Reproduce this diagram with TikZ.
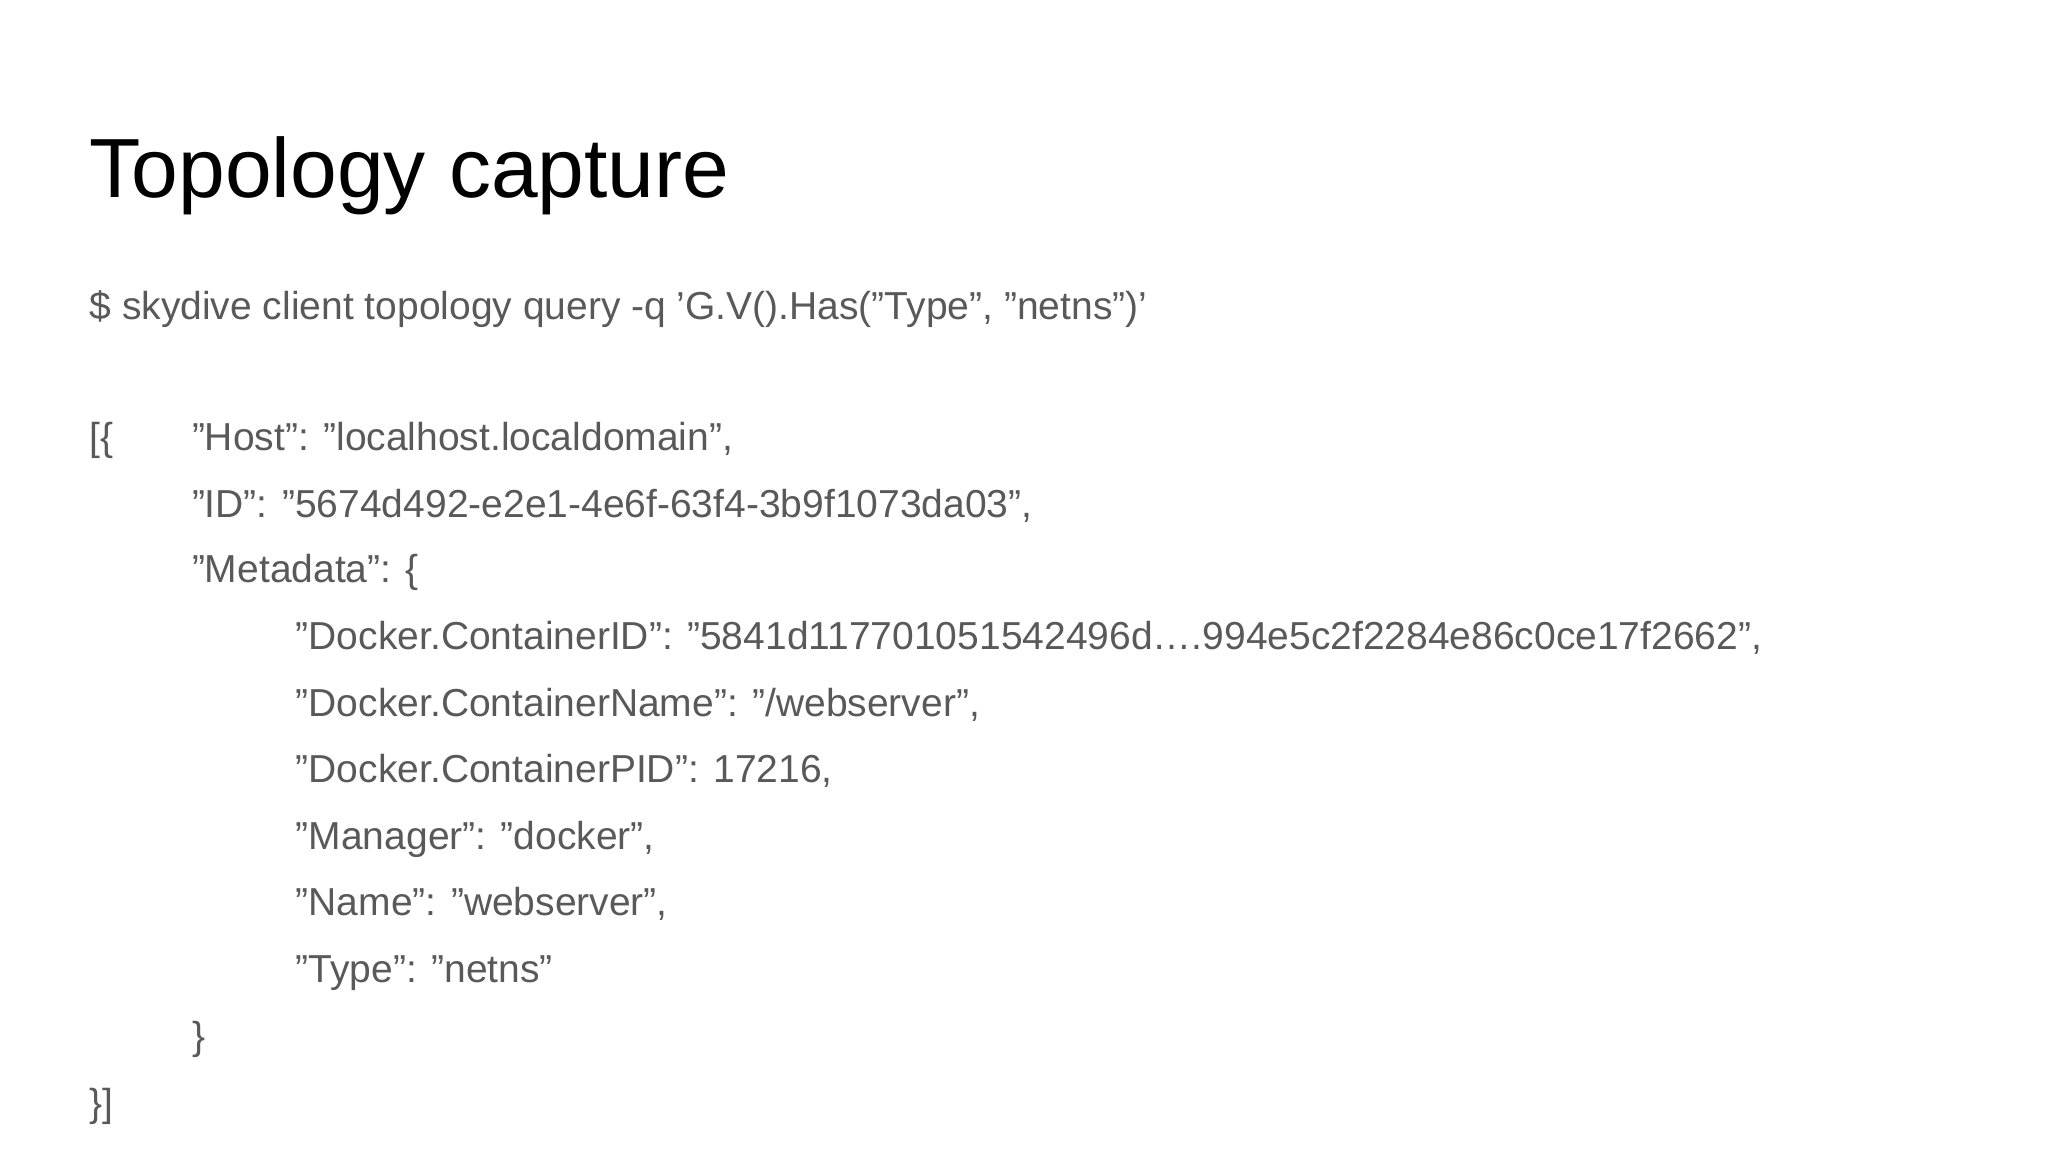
\documentclass[tikz,border=0pt]{standalone}
\usepackage{fontspec}
\setmainfont{Liberation Sans}
\definecolor{body}{HTML}{595959}
\begin{document}
\begin{tikzpicture}[x=1pt,y=1pt,
  t/.style={anchor=base west,inner sep=0pt,text=body,font=\fontsize{19.5}{23}\selectfont}]
\useasboundingbox (0,0) rectangle (1024,-576);
\node[anchor=base west,inner sep=0pt,font=\fontsize{42}{48}\selectfont] (title) at (44.6,-98.5) {Topology capture};
\node[t] (cmd) at (44.6,-159.5) {\$ skydive client topology query -q 'G.V().Has("Type", "netns")'};
\node[t] (l0) at (44.6,-225.2) {[\{};
\node[t] (l1) at (95.8,-225.2) {"Host": "localhost.localdomain",};
\node[t] (l2) at (95.8,-258.6) {"ID": "5674d492-e2e1-4e6f-63f4-3b9f1073da03",};
\node[t] (l3) at (95.8,-291.4) {"Metadata": \{};
\node[t] (l4) at (147.7,-324.9) {"Docker.ContainerID": "5841d117701051542496d….994e5c2f2284e86c0ce17f2662",};
\node[t] (l5) at (147.7,-358.4) {"Docker.ContainerName": "/webserver",};
\node[t] (l6) at (147.7,-391.2) {"Docker.ContainerPID": 17216,};
\node[t] (l7) at (147.7,-424.7) {"Manager": "docker",};
\node[t] (l8) at (147.7,-457.5) {"Name": "webserver",};
\node[t] (l9) at (147.7,-491) {"Type": "netns"};
\node[t] (l10) at (95.8,-524.5) {\}};
\node[t] (l11) at (44.6,-558) {\}]};
\end{tikzpicture}
\end{document}
